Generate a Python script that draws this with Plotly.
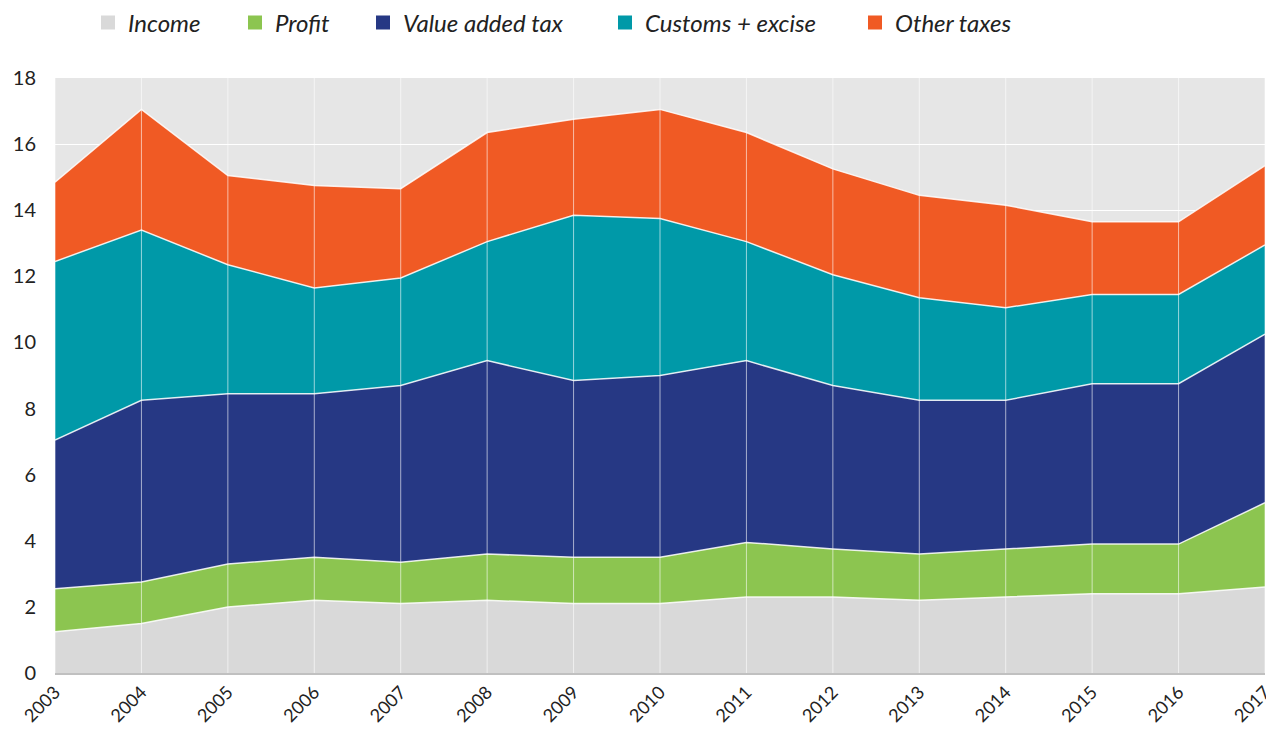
import plotly.graph_objects as go

years = [2003, 2004, 2005, 2006, 2007, 2008, 2009, 2010, 2011, 2012, 2013, 2014, 2015, 2016, 2017]
income = [1.25, 1.5, 2.0, 2.2, 2.1, 2.2, 2.1, 2.1, 2.3, 2.3, 2.2, 2.3, 2.4, 2.4, 2.6]
profit = [1.3, 1.25, 1.3, 1.3, 1.25, 1.4, 1.4, 1.4, 1.65, 1.45, 1.4, 1.45, 1.5, 1.5, 2.55]
vat = [4.5, 5.5, 5.15, 4.95, 5.35, 5.85, 5.35, 5.5, 5.5, 4.95, 4.65, 4.5, 4.85, 4.85, 5.1]
customs = [5.4, 5.15, 3.9, 3.2, 3.25, 3.6, 5.0, 4.75, 3.6, 3.35, 3.1, 2.8, 2.7, 2.7, 2.7]
other = [2.4, 3.65, 2.7, 3.1, 2.7, 3.3, 2.9, 3.3, 3.3, 3.2, 3.1, 3.1, 2.2, 2.2, 2.4]

series = [
    ("Income", income, "#d9d9d9"),
    ("Profit", profit, "#8cc550"),
    ("Value added tax", vat, "#263884"),
    ("Customs + excise", customs, "#0099a8"),
    ("Other taxes", other, "#f05a24"),
]
# left pixel position of each legend square on the page
legend_px = [100, 247, 375, 617, 867]

# the page body has an 8px margin, so the figure is sized to fit the window
W, H = 1266, 729
FONT = "Lato, Open Sans, sans-serif"

fig = go.Figure()
for name, vals, col in series:
    fig.add_trace(go.Scatter(
        x=years, y=vals, name=name, mode="lines", stackgroup="one",
        fillcolor=col, line=dict(color="rgba(255,255,255,0.85)", width=1.5),
        showlegend=False, hoverinfo="x+y+name",
    ))

legend_layout = {}
for i, ((name, vals, col), px) in enumerate(zip(series, legend_px)):
    key = "legend" if i == 0 else f"legend{i+1}"
    fig.add_trace(go.Scatter(
        x=[None], y=[None], name=name, mode="markers",
        marker=dict(symbol="square", size=14, color=col, line=dict(width=0)),
        showlegend=True, legend=key,
    ))
    legend_layout[key] = dict(
        xref="container", yref="container",
        x=(px - 20) / W, xanchor="left", y=1 - 15 / H, yanchor="middle",
        font=dict(family=FONT, size=24, color="#222", style="italic"),
        bgcolor="rgba(0,0,0,0)", borderwidth=0, itemwidth=30,
    )

for yr in years:
    fig.add_shape(type="line", x0=yr, x1=yr, xref="x", yref="y", y0=0, y1=18,
                  line=dict(color="rgba(255,255,255,0.6)", width=1), layer="above")

fig.update_layout(
    width=W, height=H,
    margin=dict(l=47, r=9, t=70, b=64, autoexpand=False),
    paper_bgcolor="white", plot_bgcolor="#e6e6e6",
    font=dict(family=FONT, size=18, color="#222"),
    showlegend=True,
    xaxis=dict(range=[2003, 2017], tickvals=years, ticktext=[str(y) for y in years],
               tickangle=-45, showgrid=False, zeroline=False, showline=True,
               linecolor="#c0c0c0", linewidth=1.5,
               ticks="", tickfont=dict(size=18), automargin=False,
               ticklabeloverflow="allow"),
    yaxis=dict(range=[0, 18], dtick=2, showgrid=True, gridcolor="white", gridwidth=1,
               zeroline=False, showline=False, ticks="", tickfont=dict(size=20),
               ticklabelstandoff=18, automargin=False),
    **legend_layout,
)

fig.write_html("out.html")
